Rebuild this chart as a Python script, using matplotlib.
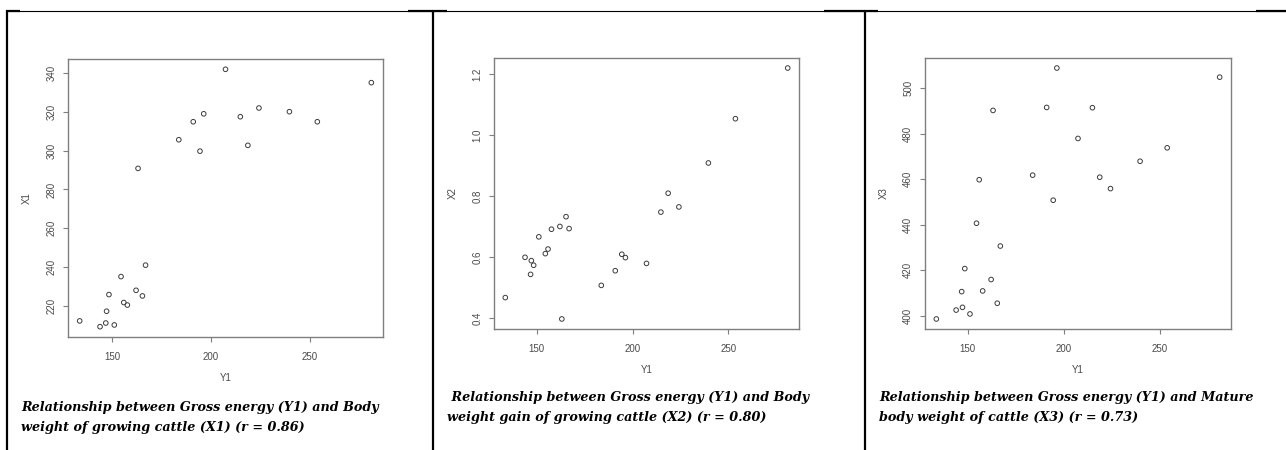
import matplotlib
matplotlib.use("Agg")
import matplotlib.pyplot as plt
from matplotlib.lines import Line2D

# Gross energy (Y1), shared by the three panels
y1 = [133.6, 143.9, 146.8, 147.2, 148.4, 151.1, 154.5, 155.9, 157.7, 162.1, 163.1, 165.3,
      166.9, 183.7, 191.0, 194.4, 196.3, 207.3, 214.8, 218.6, 224.2, 239.6, 253.7, 281.0]
# Body weight of growing cattle
x1 = [212.1, 209.1, 211.0, 217.1, 225.7, 210.0, 235.0, 221.6, 220.3, 227.9, 290.9, 225.0,
      240.9, 305.7, 315.0, 299.8, 319.1, 342.1, 317.6, 302.8, 322.1, 320.2, 315.0, 335.2]
# Body weight gain of growing cattle
x2 = [0.468, 0.600, 0.544, 0.589, 0.574, 0.667, 0.612, 0.627, 0.692, 0.701, 0.398, 0.733,
      0.694, 0.508, 0.556, 0.610, 0.599, 0.580, 0.748, 0.810, 0.765, 0.909, 1.054, 1.220]
# Mature body weight of cattle
x3 = [398.7, 402.6, 410.7, 403.8, 420.8, 400.9, 440.7, 459.8, 411.0, 416.0, 490.2, 405.6,
      430.7, 461.8, 491.5, 450.8, 508.8, 477.9, 491.4, 460.9, 455.9, 467.9, 473.8, 504.8]

ylabels = ["X1", "X2", "X3"]
yticks = [[220, 240, 260, 280, 300, 320, 340],
          [0.4, 0.6, 0.8, 1.0, 1.2],
          [400, 420, 440, 460, 480, 500]]
yticklabels = [[str(t) for t in yticks[0]],
               ["0.4", "0.6", "0.8", "1.0", "1.2"],
               [str(t) for t in yticks[2]]]
xticks = [150, 200, 250]
captions = [
    ["Relationship between Gross energy (Y1) and Body",
     "weight of growing cattle (X1) (r = 0.86)"],
    [" Relationship between Gross energy (Y1) and Body",
     "weight gain of growing cattle (X2) (r = 0.80)"],
    ["Relationship between Gross energy (Y1) and Mature",
     "body weight of cattle (X3) (r = 0.73)"],
]

W, H = 1286, 450
fig = plt.figure(figsize=(W / 100, H / 100), dpi=100)

# axes boxes in pixels: left, top, right, bottom
boxes = [(68, 59, 383, 337), (494, 58, 799, 329), (925, 58, 1231, 329)]
caption_pos = [[(21, 408), (21, 427)], [(447, 398), (447, 417)], [(879, 398), (879, 417)]]

frame_col = "#7f7f7f"
text_col = "#4a4a4a"

for i, xs in enumerate([x1, x2, x3]):
    l, t, r, b = boxes[i]
    ax = fig.add_axes([l / W, 1 - b / H, (r - l) / W, (b - t) / H])
    ax.scatter(y1, xs, s=11, facecolors="none", edgecolors="#3c3c3c", linewidths=0.7)
    ax.margins(0.04)
    ax.set_xticks(xticks)
    ax.set_yticks(yticks[i])
    ax.set_yticklabels(yticklabels[i], rotation=90, va="center")
    for sp in ax.spines.values():
        sp.set_color(frame_col)
        sp.set_linewidth(1.0)
    ax.tick_params(length=3.5, width=0.8, color=frame_col, labelcolor=text_col,
                   labelsize=7)
    ax.tick_params(axis="x", pad=7)
    ax.tick_params(axis="y", pad=5)
    for lab in ax.get_xticklabels() + ax.get_yticklabels():
        lab.set_family("Liberation Sans")
    ax.set_xlabel("Y1", fontsize=7, color=text_col, family="Liberation Sans")
    ax.set_ylabel(ylabels[i], fontsize=7, color=text_col, family="Liberation Sans")
    ax.xaxis.set_label_coords(0.5, -36 / (b - t))
    ax.yaxis.set_label_coords(-36 / (r - l), 0.5)

    for line, (px, py) in zip(captions[i], caption_pos[i]):
        fig.text(px / W, 1 - py / H, line, ha="left", va="center", fontsize=9.2,
                 family="DejaVu Serif", weight="bold", style="italic", color="black")

# table borders
def hline(x0, x1_, y, lw):
    fig.add_artist(Line2D([x0 / W, x1_ / W], [1 - y / H, 1 - y / H], color="black",
                          lw=lw, solid_capstyle="butt"))

def vline(x, y0, y1_, lw):
    fig.add_artist(Line2D([x / W, x / W], [1 - y0 / H, 1 - y1_ / H], color="black",
                          lw=lw, solid_capstyle="butt"))

hline(7, 1286, 10.8, 0.8)
for a, c in [(6, 20), (408, 447), (824, 878), (1256, 1286)]:
    hline(a, c, 11, 1.6)
for x in [7, 433, 865]:
    vline(x, 10, 450, 1.6)

fig.savefig("out.png", dpi=100)
